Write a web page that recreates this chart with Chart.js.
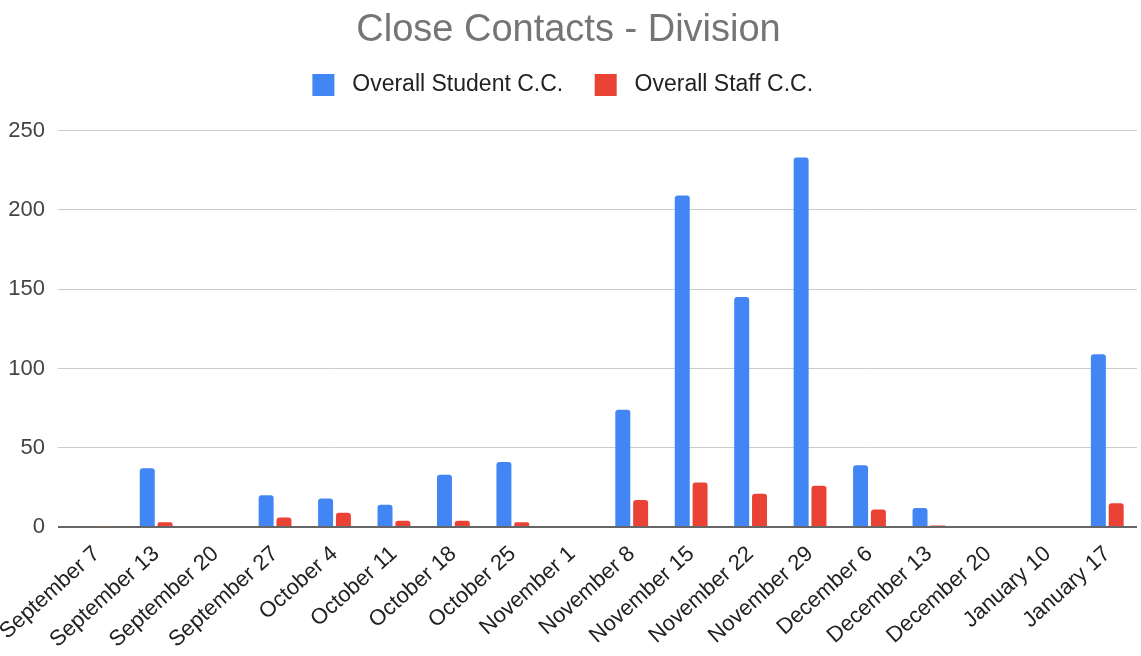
<!DOCTYPE html>
<html>
<head>
<meta charset="utf-8">
<script src="https://cdn.jsdelivr.net/npm/chart.js@4/dist/chart.umd.min.js"></script>
<style>
  html, body { margin: 0; padding: 0; background: #fff; }
  #wrap { width: 1141px; height: 656px; }
</style>
</head>
<body>
<div id="wrap"><canvas id="ccChart"></canvas></div>
<script>
const weeks = [
  "September 7", "September 13", "September 20", "September 27",
  "October 4", "October 11", "October 18", "October 25",
  "November 1", "November 8", "November 15", "November 22", "November 29",
  "December 6", "December 13", "December 20", "January 10", "January 17"
];
const studentCC = [0, 37, 0, 20, 18, 14, 33, 41, 0, 74, 209, 145, 233, 39, 12, 0, 0, 109];
const staffCC = [0.5, 3, 0, 6, 9, 4, 4, 3, 0, 17, 28, 21, 26, 11, 1, 0, 0, 15];
const yTicks = [0, 50, 100, 150, 200, 250];

const FONT = "Arial, 'Liberation Sans', sans-serif";

// extra room between the legend and the plot
const legendGap = {
  id: "legendGap",
  beforeInit(chart) {
    const fit = chart.legend.fit;
    chart.legend.fit = function () {
      fit.call(this);
      this.height += 24;
    };
  },
};

const ctx = document.getElementById("ccChart").getContext("2d");
new Chart(ctx, {
  type: "bar",
  plugins: [legendGap],
  data: {
    labels: weeks,
    datasets: [
      {
        label: "Overall Student C.C.",
        data: studentCC,
        backgroundColor: "#4285f4",
        borderRadius: { topLeft: 3, topRight: 3 },
        borderSkipped: "bottom",
        categoryPercentage: 0.6,
        barPercentage: 0.84,
      },
      {
        label: "Overall Staff C.C.",
        data: staffCC,
        backgroundColor: "#ea4335",
        borderRadius: { topLeft: 3, topRight: 3 },
        borderSkipped: "bottom",
        categoryPercentage: 0.6,
        barPercentage: 0.84,
      },
    ],
  },
  options: {
    responsive: true,
    maintainAspectRatio: false,
    animation: false,
    layout: { padding: { top: 0, right: 4, left: 0, bottom: 0 } },
    plugins: {
      title: {
        display: true,
        text: "Close Contacts - Division",
        color: "#757575",
        font: { family: FONT, size: 38, weight: "normal", lineHeight: 1.2 },
        padding: { top: 8, bottom: 0 },
      },
      legend: {
        position: "top",
        labels: {
          color: "#222",
          font: { family: FONT, size: 23 },
          boxWidth: 22,
          boxHeight: 22,
          padding: 20,
          generateLabels: (chart) =>
            Chart.defaults.plugins.legend.labels
              .generateLabels(chart)
              .map((item) => ({ ...item, text: " " + item.text + "\u2002" })),
        },
      },
      tooltip: { enabled: false },
    },
    scales: {
      x: {
        grid: { display: false },
        border: { display: false },
        ticks: {
          color: "#222",
          font: { family: FONT, size: 22 },
          minRotation: 42,
          maxRotation: 42,
          autoSkip: false,
          padding: 6,
        },
        afterFit: (scale) => {
          scale.paddingLeft = 0;
          scale.paddingRight = 0;
          scale.height = 129;
        },
      },
      y: {
        min: 0,
        max: 250,
        afterBuildTicks: (axis) => {
          axis.ticks = yTicks.map((v) => ({ value: v }));
        },
        afterFit: (scale) => {
          scale.width = 67;
        },
        border: { display: false },
        grid: {
          drawTicks: true,
          tickLength: 9,
          color: (c) => (c.tick && c.tick.value === 0 ? "#666" : "#ccc"),
          lineWidth: (c) => (c.tick && c.tick.value === 0 ? 2 : 1),
        },
        ticks: {
          color: "#444",
          font: { family: FONT, size: 22 },
          padding: 13,
        },
      },
    },
  },
});
</script>
</body>
</html>
